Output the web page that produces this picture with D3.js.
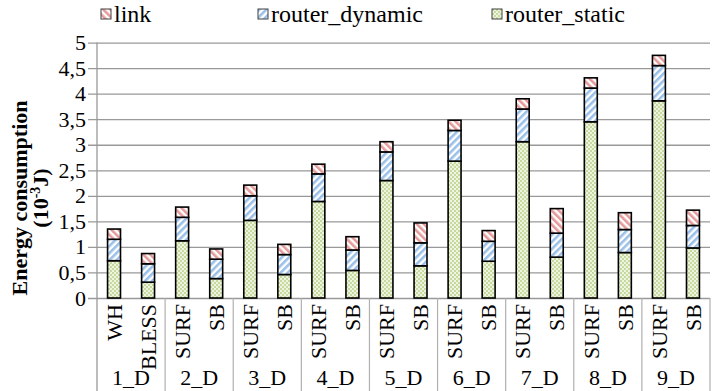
<!DOCTYPE html>
<html>
<head>
<meta charset="utf-8">
<script src="https://cdn.jsdelivr.net/npm/d3@7"></script>
<style>
  body { margin: 0; background: #fff; }
  svg { display: block; }
  svg text { font-family: "Times New Roman", "Liberation Serif", "DejaVu Serif", serif !important; fill: #000; }
</style>
</head>
<body>
<svg id="chart" width="713" height="391"></svg>
<script>
// Topology groups and the schemes compared inside each one
const groups = ["1_D", "2_D", "3_D", "4_D", "5_D", "6_D", "7_D", "8_D", "9_D"];
const barGroups = ["1_D", "1_D", "2_D", "2_D", "3_D", "3_D", "4_D", "4_D", "5_D", "5_D",
                   "6_D", "6_D", "7_D", "7_D", "8_D", "8_D", "9_D", "9_D"];
const schemes = ["WH", "BLESS", "SURF", "SB", "SURF", "SB", "SURF", "SB", "SURF", "SB",
                 "SURF", "SB", "SURF", "SB", "SURF", "SB", "SURF", "SB"];

// Energy per component (10^-3 J)
const routerStatic  = [0.73, 0.31, 1.12, 0.38, 1.52, 0.46, 1.89, 0.54, 2.30, 0.63,
                       2.68, 0.72, 3.06, 0.80, 3.45, 0.89, 3.86, 0.98];
const routerDynamic = [0.42, 0.36, 0.46, 0.38, 0.48, 0.39, 0.54, 0.40, 0.56, 0.45,
                       0.60, 0.39, 0.64, 0.47, 0.66, 0.45, 0.69, 0.44];
const link          = [0.20, 0.20, 0.20, 0.20, 0.21, 0.20, 0.19, 0.26, 0.20, 0.39,
                       0.20, 0.21, 0.20, 0.48, 0.20, 0.33, 0.20, 0.30];

const yTicks = [0, 0.5, 1, 1.5, 2, 2.5, 3, 3.5, 4, 4.5, 5];
const legendNames = ["link", "router_dynamic", "router_static"];

const svg = d3.select("#chart");
const plotLeft = 97, plotRight = 710, plotTop = 42.6, plotBottom = 298;
const FONT = 22;
const SERIF = "'Times New Roman', 'Liberation Serif', 'DejaVu Serif', serif";
const GRID = "#999";

// Fill patterns
const defs = svg.append("defs");
function stripes(id, color, angle) {
  const p = defs.append("pattern").attr("id", id)
    .attr("patternUnits", "userSpaceOnUse").attr("width", 5).attr("height", 5)
    .attr("patternTransform", `rotate(${angle})`);
  p.append("rect").attr("width", 5).attr("height", 5).attr("fill", "#fff");
  p.append("rect").attr("width", 2.6).attr("height", 5).attr("fill", color);
}
stripes("pat-link", "#e69a9a", -45);
stripes("pat-dyn", "#9ac0e8", 45);
const chk = defs.append("pattern").attr("id", "pat-static")
  .attr("patternUnits", "userSpaceOnUse").attr("width", 4).attr("height", 4);
chk.append("rect").attr("width", 4).attr("height", 4).attr("fill", "#eef4e0");
chk.append("rect").attr("width", 2).attr("height", 2).attr("fill", "#c6da9f");
chk.append("rect").attr("x", 2).attr("y", 2).attr("width", 2).attr("height", 2).attr("fill", "#c6da9f");

const fills = { router_static: "url(#pat-static)", router_dynamic: "url(#pat-dyn)", link: "url(#pat-link)" };

// Rows for stacking
const rows = schemes.map((s, i) => ({
  key: barGroups[i] + "|" + s + "|" + i,
  router_static: routerStatic[i],
  router_dynamic: routerDynamic[i],
  link: link[i]
}));

const x = d3.scaleBand().domain(rows.map(r => r.key)).range([plotLeft, plotRight])
  .paddingInner(0.62).paddingOuter(0.31);
const xg = d3.scaleBand().domain(groups).range([plotLeft, plotRight]).padding(0);
const y = d3.scaleLinear().domain([0, 5]).range([plotBottom, plotTop]);

const fmt = d3.formatLocale({ decimal: ",", thousands: ".", grouping: [3], currency: ["", ""] }).format("~g");

// Gridlines and y labels
const yAxis = svg.append("g").attr("transform", `translate(${plotLeft},0)`)
  .call(d3.axisLeft(y).tickValues(yTicks).tickFormat(fmt).tickSizeOuter(0))
  .attr("font-family", SERIF);
yAxis.select(".domain").remove();
yAxis.selectAll(".tick line").attr("x1", -9).attr("x2", plotRight - plotLeft)
  .attr("stroke", GRID).attr("stroke-width", 1.3);
yAxis.selectAll(".tick text").attr("x", -11).attr("font-size", FONT);

// Axis lines and group separators
svg.append("line").attr("x1", plotLeft).attr("x2", plotLeft).attr("y1", plotTop).attr("y2", 391)
  .attr("stroke", GRID).attr("stroke-width", 1.3);
svg.append("g").selectAll("line").data(groups.slice(1).concat(["end"])).join("line")
  .attr("x1", g => g === "end" ? plotRight : xg(g))
  .attr("x2", g => g === "end" ? plotRight : xg(g))
  .attr("y1", plotBottom).attr("y2", 391)
  .attr("stroke", "#b0b0b0").attr("stroke-width", 1.2);

// Stacked bars
const stack = d3.stack().keys(["router_static", "router_dynamic", "link"])(rows);
svg.append("g").selectAll("g").data(stack).join("g")
  .attr("fill", d => fills[d.key])
  .selectAll("rect").data(d => d).join("rect")
  .attr("x", d => x(d.data.key))
  .attr("width", x.bandwidth())
  .attr("y", d => y(d[1]))
  .attr("height", d => y(d[0]) - y(d[1]))
  .attr("stroke", "#000").attr("stroke-width", 1.6);

// Category labels
const xAxis = svg.append("g").attr("transform", `translate(0,${plotBottom})`)
  .call(d3.axisBottom(x).tickSize(0).tickFormat(k => k.split("|")[1]))
  .attr("font-family", SERIF);
xAxis.select(".domain").remove();
xAxis.selectAll(".tick text")
  .attr("transform", "rotate(-90)")
  .attr("x", -6).attr("y", 0).attr("dy", "0.35em")
  .style("text-anchor", "end")
  .attr("font-size", FONT);

// Group labels
const gAxis = svg.append("g").attr("transform", `translate(0,${plotBottom})`)
  .call(d3.axisBottom(xg).tickSize(0))
  .attr("font-family", SERIF);
gAxis.select(".domain").remove();
gAxis.selectAll(".tick text").attr("y", 87).attr("dy", 0)
  .attr("font-size", FONT);

// y-axis title
const yTitle = svg.append("g").attr("font-weight", "bold").attr("font-size", FONT)
  .attr("font-family", SERIF).attr("text-anchor", "middle");
yTitle.append("text").attr("transform", "translate(27,198) rotate(-90)")
  .text("Energy consumption");
const t2 = yTitle.append("text").attr("transform", "translate(48,198) rotate(-90)");
t2.append("tspan").text("(10");
t2.append("tspan").attr("font-size", 14).attr("dy", -8).text("-3");
t2.append("tspan").attr("dy", 8).text("J)");

// Legend
const legendX = [101, 258, 492];
const legend = svg.append("g").attr("font-family", SERIF)
  .selectAll("g").data(legendNames).join("g")
  .attr("transform", (d, i) => `translate(${legendX[i]},9)`);
legend.append("rect").attr("width", 10).attr("height", 10)
  .attr("fill", d => fills[d]).attr("stroke", "#404040").attr("stroke-width", 1);
legend.append("text").attr("x", 13).attr("y", 13).attr("font-size", 24)
  .text(d => d);
</script>
</body>
</html>
